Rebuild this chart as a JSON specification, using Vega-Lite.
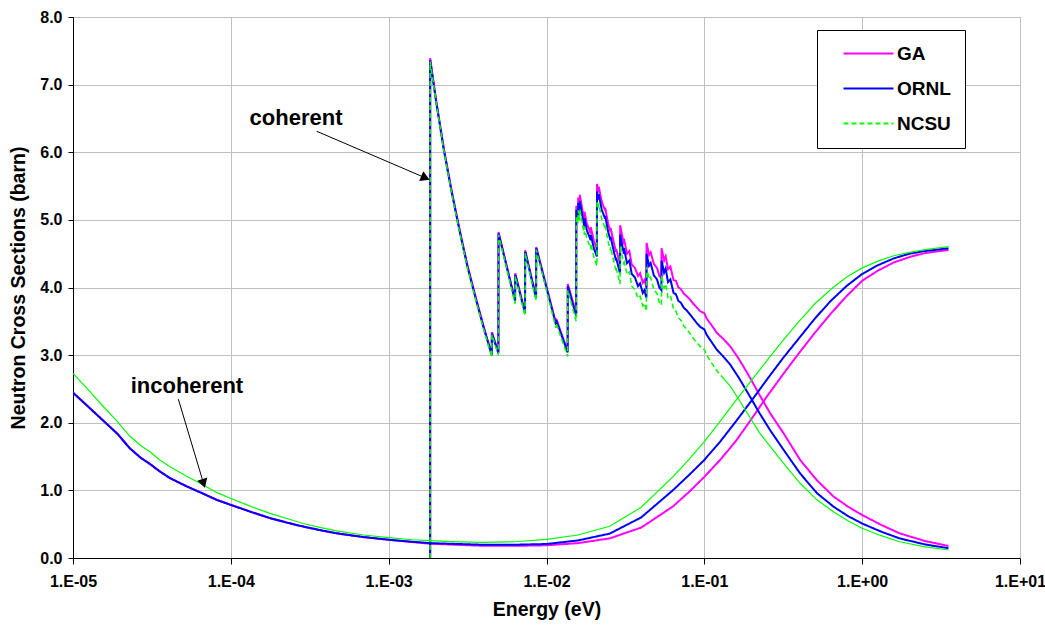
{
  "$schema": "https://vega.github.io/schema/vega-lite/v6.json",
  "width": 947,
  "height": 541,
  "autosize": {"type": "none"},
  "padding": {"left": 73, "top": 17, "right": 25, "bottom": 68},
  "background": "white",
  "datasets": {
    "xs": [
      {"c":"inc","E":0.00001,"GA":2.445,"ORNL":2.445,"NCSU":2.73},
      {"c":"inc","E":0.00001259,"GA":2.23,"ORNL":2.23,"NCSU":2.48},
      {"c":"inc","E":0.00001556,"GA":2.03,"ORNL":2.03,"NCSU":2.24},
      {"c":"inc","E":0.00001905,"GA":1.84,"ORNL":1.84,"NCSU":2.02},
      {"c":"inc","E":0.00002296,"GA":1.62,"ORNL":1.62,"NCSU":1.80},
      {"c":"inc","E":0.00002692,"GA":1.48,"ORNL":1.48,"NCSU":1.66},
      {"c":"inc","E":0.00003076,"GA":1.39,"ORNL":1.39,"NCSU":1.57},
      {"c":"inc","E":0.00003548,"GA":1.28,"ORNL":1.28,"NCSU":1.45},
      {"c":"inc","E":0.00004121,"GA":1.18,"ORNL":1.18,"NCSU":1.35},
      {"c":"inc","E":0.00005248,"GA":1.06,"ORNL":1.06,"NCSU":1.21},
      {"c":"inc","E":0.00006699,"GA":0.95,"ORNL":0.95,"NCSU":1.08},
      {"c":"inc","E":0.00008128,"GA":0.86,"ORNL":0.86,"NCSU":0.97},
      {"c":"inc","E":0.0001,"GA":0.785,"ORNL":0.785,"NCSU":0.88},
      {"c":"inc","E":0.0001349,"GA":0.68,"ORNL":0.68,"NCSU":0.76},
      {"c":"inc","E":0.000177,"GA":0.59,"ORNL":0.59,"NCSU":0.66},
      {"c":"inc","E":0.0002291,"GA":0.52,"ORNL":0.52,"NCSU":0.58},
      {"c":"inc","E":0.0002877,"GA":0.465,"ORNL":0.465,"NCSU":0.51},
      {"c":"inc","E":0.0003715,"GA":0.41,"ORNL":0.41,"NCSU":0.45},
      {"c":"inc","E":0.0004677,"GA":0.365,"ORNL":0.365,"NCSU":0.40},
      {"c":"inc","E":0.0006918,"GA":0.31,"ORNL":0.31,"NCSU":0.34},
      {"c":"inc","E":0.001,"GA":0.27,"ORNL":0.27,"NCSU":0.30},
      {"c":"inc","E":0.001413,"GA":0.235,"ORNL":0.24,"NCSU":0.27},
      {"c":"inc","E":0.001832,"GA":0.212,"ORNL":0.22,"NCSU":0.256},
      {"c":"inc","E":0.002512,"GA":0.198,"ORNL":0.21,"NCSU":0.242},
      {"c":"inc","E":0.003802,"GA":0.182,"ORNL":0.197,"NCSU":0.232},
      {"c":"inc","E":0.00631,"GA":0.18,"ORNL":0.196,"NCSU":0.24},
      {"c":"inc","E":0.01,"GA":0.188,"ORNL":0.207,"NCSU":0.276},
      {"c":"inc","E":0.01585,"GA":0.22,"ORNL":0.26,"NCSU":0.34},
      {"c":"inc","E":0.02512,"GA":0.29,"ORNL":0.36,"NCSU":0.47},
      {"c":"inc","E":0.03981,"GA":0.45,"ORNL":0.60,"NCSU":0.75},
      {"c":"inc","E":0.0631,"GA":0.76,"ORNL":1.00,"NCSU":1.20},
      {"c":"inc","E":0.07943,"GA":0.97,"ORNL":1.22,"NCSU":1.45},
      {"c":"inc","E":0.1,"GA":1.20,"ORNL":1.45,"NCSU":1.72},
      {"c":"inc","E":0.1259,"GA":1.45,"ORNL":1.72,"NCSU":2.02},
      {"c":"inc","E":0.1585,"GA":1.73,"ORNL":2.02,"NCSU":2.33},
      {"c":"inc","E":0.1995,"GA":2.06,"ORNL":2.33,"NCSU":2.63},
      {"c":"inc","E":0.2512,"GA":2.40,"ORNL":2.65,"NCSU":2.93},
      {"c":"inc","E":0.3162,"GA":2.72,"ORNL":2.96,"NCSU":3.22},
      {"c":"inc","E":0.3981,"GA":3.03,"ORNL":3.25,"NCSU":3.50},
      {"c":"inc","E":0.5012,"GA":3.33,"ORNL":3.54,"NCSU":3.76},
      {"c":"inc","E":0.631,"GA":3.61,"ORNL":3.80,"NCSU":3.97},
      {"c":"inc","E":0.7943,"GA":3.87,"ORNL":4.02,"NCSU":4.15},
      {"c":"inc","E":1,"GA":4.10,"ORNL":4.20,"NCSU":4.29},
      {"c":"inc","E":1.259,"GA":4.25,"ORNL":4.33,"NCSU":4.39},
      {"c":"inc","E":1.585,"GA":4.37,"ORNL":4.43,"NCSU":4.47},
      {"c":"inc","E":1.995,"GA":4.45,"ORNL":4.50,"NCSU":4.52},
      {"c":"inc","E":2.512,"GA":4.51,"ORNL":4.54,"NCSU":4.56},
      {"c":"inc","E":3.524,"GA":4.556,"ORNL":4.58,"NCSU":4.605},
      {"c":"coh","E":0.001832,"GA":0,"ORNL":0,"NCSU":0},
      {"c":"coh","E":0.0018323,"GA":7.39,"ORNL":7.36,"NCSU":7.34},
      {"c":"coh","E":0.0019953,"GA":6.78,"ORNL":6.76,"NCSU":6.75},
      {"c":"coh","E":0.0022387,"GA":6.05,"ORNL":6.03,"NCSU":6.02},
      {"c":"coh","E":0.0025119,"GA":5.42,"ORNL":5.40,"NCSU":5.38},
      {"c":"coh","E":0.0028184,"GA":4.85,"ORNL":4.83,"NCSU":4.81},
      {"c":"coh","E":0.0031623,"GA":4.32,"ORNL":4.30,"NCSU":4.28},
      {"c":"coh","E":0.0035481,"GA":3.87,"ORNL":3.85,"NCSU":3.83},
      {"c":"coh","E":0.0039811,"GA":3.44,"ORNL":3.42,"NCSU":3.40},
      {"c":"coh","E":0.0044978,"GA":3.01,"ORNL":3.00,"NCSU":2.97},
      {"c":"coh","E":0.0045082,"GA":3.34,"ORNL":3.32,"NCSU":3.30},
      {"c":"coh","E":0.0049545,"GA":3.04,"ORNL":3.03,"NCSU":3.00},
      {"c":"coh","E":0.0049659,"GA":4.82,"ORNL":4.80,"NCSU":4.78},
      {"c":"coh","E":0.0063241,"GA":3.81,"ORNL":3.80,"NCSU":3.76},
      {"c":"coh","E":0.0063387,"GA":4.21,"ORNL":4.19,"NCSU":4.17},
      {"c":"coh","E":0.0073114,"GA":3.63,"ORNL":3.62,"NCSU":3.58},
      {"c":"coh","E":0.0073282,"GA":4.55,"ORNL":4.53,"NCSU":4.51},
      {"c":"coh","E":0.0085901,"GA":3.86,"ORNL":3.84,"NCSU":3.80},
      {"c":"coh","E":0.0086099,"GA":4.60,"ORNL":4.58,"NCSU":4.56},
      {"c":"coh","E":0.011482,"GA":3.47,"ORNL":3.45,"NCSU":3.40},
      {"c":"coh","E":0.011508,"GA":3.54,"ORNL":3.52,"NCSU":3.47},
      {"c":"coh","E":0.013614,"GA":3.06,"ORNL":3.04,"NCSU":2.98},
      {"c":"coh","E":0.013646,"GA":4.05,"ORNL":4.02,"NCSU":3.96},
      {"c":"coh","E":0.015417,"GA":3.62,"ORNL":3.58,"NCSU":3.50},
      {"c":"coh","E":0.015453,"GA":5.21,"ORNL":5.15,"NCSU":5.05},
      {"c":"coh","E":0.015849,"GA":5.12,"ORNL":5.05,"NCSU":4.95},
      {"c":"coh","E":0.015885,"GA":5.33,"ORNL":5.25,"NCSU":5.14},
      {"c":"coh","E":0.016218,"GA":5.18,"ORNL":5.10,"NCSU":4.99},
      {"c":"coh","E":0.016255,"GA":5.37,"ORNL":5.28,"NCSU":5.16},
      {"c":"coh","E":0.016982,"GA":5.11,"ORNL":5.02,"NCSU":4.90},
      {"c":"coh","E":0.017378,"GA":4.99,"ORNL":4.90,"NCSU":4.78},
      {"c":"coh","E":0.017418,"GA":5.12,"ORNL":5.02,"NCSU":4.90},
      {"c":"coh","E":0.017989,"GA":4.95,"ORNL":4.85,"NCSU":4.73},
      {"c":"coh","E":0.019055,"GA":4.80,"ORNL":4.70,"NCSU":4.57},
      {"c":"coh","E":0.019099,"GA":4.89,"ORNL":4.78,"NCSU":4.65},
      {"c":"coh","E":0.019953,"GA":4.69,"ORNL":4.58,"NCSU":4.45},
      {"c":"coh","E":0.020845,"GA":4.57,"ORNL":4.46,"NCSU":4.32},
      {"c":"coh","E":0.020893,"GA":5.53,"ORNL":5.42,"NCSU":5.28},
      {"c":"coh","E":0.02138,"GA":5.41,"ORNL":5.30,"NCSU":5.16},
      {"c":"coh","E":0.021429,"GA":5.49,"ORNL":5.38,"NCSU":5.24},
      {"c":"coh","E":0.022387,"GA":5.27,"ORNL":5.15,"NCSU":5.01},
      {"c":"coh","E":0.023496,"GA":5.14,"ORNL":5.02,"NCSU":4.88},
      {"c":"coh","E":0.02355,"GA":5.18,"ORNL":5.06,"NCSU":4.92},
      {"c":"coh","E":0.024547,"GA":4.95,"ORNL":4.83,"NCSU":4.68},
      {"c":"coh","E":0.02541,"GA":4.83,"ORNL":4.70,"NCSU":4.55},
      {"c":"coh","E":0.025468,"GA":4.88,"ORNL":4.75,"NCSU":4.60},
      {"c":"coh","E":0.026546,"GA":4.69,"ORNL":4.56,"NCSU":4.41},
      {"c":"coh","E":0.027542,"GA":4.53,"ORNL":4.40,"NCSU":4.25},
      {"c":"coh","E":0.027606,"GA":4.57,"ORNL":4.44,"NCSU":4.29},
      {"c":"coh","E":0.029242,"GA":4.35,"ORNL":4.21,"NCSU":4.05},
      {"c":"coh","E":0.029309,"GA":4.92,"ORNL":4.78,"NCSU":4.62},
      {"c":"coh","E":0.0302,"GA":4.76,"ORNL":4.62,"NCSU":4.46},
      {"c":"coh","E":0.030903,"GA":4.64,"ORNL":4.50,"NCSU":4.34},
      {"c":"coh","E":0.030974,"GA":4.72,"ORNL":4.58,"NCSU":4.41},
      {"c":"coh","E":0.032359,"GA":4.50,"ORNL":4.36,"NCSU":4.19},
      {"c":"coh","E":0.033497,"GA":4.54,"ORNL":4.40,"NCSU":4.23},
      {"c":"coh","E":0.034674,"GA":4.34,"ORNL":4.20,"NCSU":4.02},
      {"c":"coh","E":0.036308,"GA":4.29,"ORNL":4.15,"NCSU":3.97},
      {"c":"coh","E":0.038019,"GA":4.17,"ORNL":4.02,"NCSU":3.84},
      {"c":"coh","E":0.039174,"GA":4.21,"ORNL":4.06,"NCSU":3.87},
      {"c":"coh","E":0.040738,"GA":4.07,"ORNL":3.92,"NCSU":3.73},
      {"c":"coh","E":0.041687,"GA":4.11,"ORNL":3.96,"NCSU":3.77},
      {"c":"coh","E":0.042954,"GA":4.01,"ORNL":3.85,"NCSU":3.65},
      {"c":"coh","E":0.043053,"GA":4.66,"ORNL":4.50,"NCSU":4.30},
      {"c":"coh","E":0.044668,"GA":4.48,"ORNL":4.32,"NCSU":4.12},
      {"c":"coh","E":0.045709,"GA":4.52,"ORNL":4.36,"NCSU":4.15},
      {"c":"coh","E":0.047863,"GA":4.35,"ORNL":4.18,"NCSU":3.97},
      {"c":"coh","E":0.050119,"GA":4.29,"ORNL":4.12,"NCSU":3.91},
      {"c":"coh","E":0.05188,"GA":4.17,"ORNL":4.00,"NCSU":3.78},
      {"c":"coh","E":0.053456,"GA":4.14,"ORNL":3.96,"NCSU":3.74},
      {"c":"coh","E":0.05358,"GA":4.58,"ORNL":4.40,"NCSU":4.18},
      {"c":"coh","E":0.05559,"GA":4.40,"ORNL":4.22,"NCSU":3.99},
      {"c":"coh","E":0.056885,"GA":4.46,"ORNL":4.28,"NCSU":4.05},
      {"c":"coh","E":0.058884,"GA":4.27,"ORNL":4.08,"NCSU":3.85},
      {"c":"coh","E":0.060954,"GA":4.31,"ORNL":4.12,"NCSU":3.88},
      {"c":"coh","E":0.063826,"GA":4.11,"ORNL":3.92,"NCSU":3.68},
      {"c":"coh","E":0.066069,"GA":4.10,"ORNL":3.90,"NCSU":3.65},
      {"c":"coh","E":0.068549,"GA":4.00,"ORNL":3.80,"NCSU":3.55},
      {"c":"coh","E":0.070795,"GA":3.98,"ORNL":3.78,"NCSU":3.52},
      {"c":"coh","E":0.074131,"GA":3.91,"ORNL":3.70,"NCSU":3.43},
      {"c":"coh","E":0.077446,"GA":3.87,"ORNL":3.66,"NCSU":3.38},
      {"c":"coh","E":0.081283,"GA":3.82,"ORNL":3.60,"NCSU":3.32},
      {"c":"coh","E":0.085114,"GA":3.76,"ORNL":3.54,"NCSU":3.25},
      {"c":"coh","E":0.089125,"GA":3.71,"ORNL":3.48,"NCSU":3.19},
      {"c":"coh","E":0.093972,"GA":3.65,"ORNL":3.42,"NCSU":3.13},
      {"c":"coh","E":0.1,"GA":3.62,"ORNL":3.38,"NCSU":3.08},
      {"c":"coh","E":0.10351,"GA":3.54,"ORNL":3.30,"NCSU":3.00},
      {"c":"coh","E":0.1122,"GA":3.43,"ORNL":3.18,"NCSU":2.87},
      {"c":"coh","E":0.11995,"GA":3.33,"ORNL":3.08,"NCSU":2.77},
      {"c":"coh","E":0.13183,"GA":3.24,"ORNL":2.98,"NCSU":2.66},
      {"c":"coh","E":0.14588,"GA":3.13,"ORNL":2.86,"NCSU":2.54},
      {"c":"coh","E":0.16596,"GA":2.94,"ORNL":2.66,"NCSU":2.34},
      {"c":"coh","E":0.19543,"GA":2.66,"ORNL":2.38,"NCSU":2.07},
      {"c":"coh","E":0.22387,"GA":2.41,"ORNL":2.14,"NCSU":1.85},
      {"c":"coh","E":0.26122,"GA":2.14,"ORNL":1.89,"NCSU":1.65},
      {"c":"coh","E":0.31769,"GA":1.845,"ORNL":1.60,"NCSU":1.40},
      {"c":"coh","E":0.40458,"GA":1.45,"ORNL":1.25,"NCSU":1.105},
      {"c":"coh","E":0.51642,"GA":1.15,"ORNL":0.96,"NCSU":0.86},
      {"c":"coh","E":0.65766,"GA":0.91,"ORNL":0.76,"NCSU":0.685},
      {"c":"coh","E":0.81283,"GA":0.76,"ORNL":0.62,"NCSU":0.55},
      {"c":"coh","E":1.0,"GA":0.636,"ORNL":0.51,"NCSU":0.44},
      {"c":"coh","E":1.3183,"GA":0.49,"ORNL":0.39,"NCSU":0.33},
      {"c":"coh","E":1.7258,"GA":0.365,"ORNL":0.29,"NCSU":0.24},
      {"c":"coh","E":2.5119,"GA":0.25,"ORNL":0.20,"NCSU":0.165},
      {"c":"coh","E":3.5237,"GA":0.178,"ORNL":0.145,"NCSU":0.118}
    ]
  },
  "encoding": {
    "x": {
      "field": "E", "type": "quantitative",
      "scale": {"type": "log", "domain": [0.00001, 10], "nice": false},
      "axis": {
        "title": "Energy (eV)",
        "values": [0.00001, 0.0001, 0.001, 0.01, 0.1, 1, 10],
        "labelExpr": "'1.E' + (datum.value < 1 ? '-' : '+') + (abs(round(log(datum.value)/LN10)) < 10 ? '0' : '') + abs(round(log(datum.value)/LN10))",
        "tickSize": 6, "labelPadding": 9, "labelFlush": false, "labelOverlap": false,
        "titleX": 473.5, "titleY": 51, "titleBaseline": "middle", "titleAlign": "center"
      }
    },
    "y": {
      "field": "v", "type": "quantitative",
      "scale": {"domain": [0, 8], "nice": false},
      "axis": {
        "title": "Neutron Cross Sections (barn)",
        "values": [0, 1, 2, 3, 4, 5, 6, 7, 8], "format": ".1f",
        "tickSize": 5, "labelPadding": 6, "labelFlush": false, "labelOverlap": false,
        "titleX": -55, "titleY": 270.5, "titleAngle": 270, "titleBaseline": "middle", "titleAlign": "center"
      }
    }
  },
  "layer": [
    {
      "data": {"name": "xs"},
      "transform": [{"fold": ["GA", "ORNL", "NCSU"], "as": ["s", "v"]}, {"filter": "datum.s === 'GA'"}],
      "mark": {"type": "line", "strokeWidth": 2, "clip": true},
      "encoding": {
        "color": {"field": "s", "type": "nominal", "scale": {"domain": ["GA", "ORNL", "NCSU"], "range": ["#FF00FF", "#0000FF", "#00FF00"]}, "title": null},
        "strokeDash": {"field": "s", "type": "nominal", "scale": {"domain": ["GA", "ORNL", "NCSU"], "range": [[1, 0], [1, 0], [5, 3]]}, "title": null},
        "detail": {"field": "c"}
      }
    },
    {
      "data": {"name": "xs"},
      "transform": [{"fold": ["GA", "ORNL", "NCSU"], "as": ["s", "v"]}, {"filter": "datum.s === 'ORNL'"}],
      "mark": {"type": "line", "strokeWidth": 2, "clip": true},
      "encoding": {
        "color": {"field": "s", "type": "nominal", "title": null},
        "strokeDash": {"field": "s", "type": "nominal", "title": null},
        "detail": {"field": "c"}
      }
    },
    {
      "data": {"name": "xs"},
      "transform": [{"fold": ["GA", "ORNL", "NCSU"], "as": ["s", "v"]}, {"filter": "datum.s === 'NCSU' && datum.c === 'coh' && datum.E <= 0.132"}],
      "mark": {"type": "line", "strokeWidth": 1.5, "clip": true},
      "encoding": {
        "color": {"field": "s", "type": "nominal", "title": null},
        "strokeDash": {"field": "s", "type": "nominal", "title": null},
        "detail": {"field": "c"}
      }
    },
    {
      "data": {"name": "xs"},
      "transform": [{"fold": ["GA", "ORNL", "NCSU"], "as": ["s", "v"]}, {"filter": "datum.s === 'NCSU' && (datum.c === 'inc' || datum.E >= 0.1318)"}],
      "mark": {"type": "line", "strokeWidth": 1.2, "clip": true},
      "encoding": {
        "color": {"field": "s", "type": "nominal", "title": null},
        "detail": {"field": "c"}
      }
    },
    {
      "data": {"values": [
        {"E": 0.00035, "v": 6.31, "E2": 0.001710, "v2": 5.621},
        {"E": 0.0000465, "v": 2.348, "E2": 0.0000672, "v2": 1.102}
      ]},
      "mark": {"type": "rule", "color": "black", "strokeWidth": 1},
      "encoding": {
        "x2": {"field": "E2"},
        "y2": {"field": "v2"}
      }
    },
    {
      "data": {"values": [{"E": 0.001710, "v": 5.621}]},
      "mark": {"type": "point", "shape": "triangle-right", "angle": 23, "filled": true, "color": "black", "opacity": 1, "size": 110},
      "encoding": {}
    },
    {
      "data": {"values": [{"E": 0.0000672, "v": 1.102}]},
      "mark": {"type": "point", "shape": "triangle-right", "angle": 73, "filled": true, "color": "black", "opacity": 1, "size": 110},
      "encoding": {}
    },
    {
      "data": {"values": [
        {"E": 0.000259, "v": 6.51, "t": "coherent"},
        {"E": 0.0000527, "v": 2.544, "t": "incoherent"}
      ]},
      "mark": {"type": "text", "font": "Liberation Sans", "fontWeight": "bold", "fontSize": 22, "align": "center", "baseline": "middle", "color": "black"},
      "encoding": {"text": {"field": "t"}}
    }
  ],
  "resolve": {"legend": {"color": "shared", "strokeDash": "shared"}},
  "config": {
    "font": "Liberation Sans",
    "view": {"stroke": "#808080", "strokeWidth": 1},
    "axis": {
      "gridColor": "#C0C0C0", "gridWidth": 1, "gridOpacity": 1,
      "domainColor": "black", "domainWidth": 1, "tickColor": "black", "tickWidth": 1,
      "labelColor": "black", "labelFont": "Liberation Sans", "labelFontWeight": "bold", "labelFontSize": 16,
      "titleColor": "black", "titleFont": "Liberation Sans", "titleFontWeight": "bold", "titleFontSize": 19.5
    },
    "legend": {
      "orient": "none", "legendX": 744, "legendY": 13,
      "strokeColor": "black", "fillColor": "white", "padding": 14,
      "symbolType": "M-5,0H5", "symbolSize": 100, "symbolStrokeWidth": 2, "symbolOffset": 28,
      "labelFont": "Liberation Sans", "labelFontWeight": "bold", "labelFontSize": 19, "labelColor": "black",
      "labelOffset": 19, "rowPadding": 15
    }
  }
}
